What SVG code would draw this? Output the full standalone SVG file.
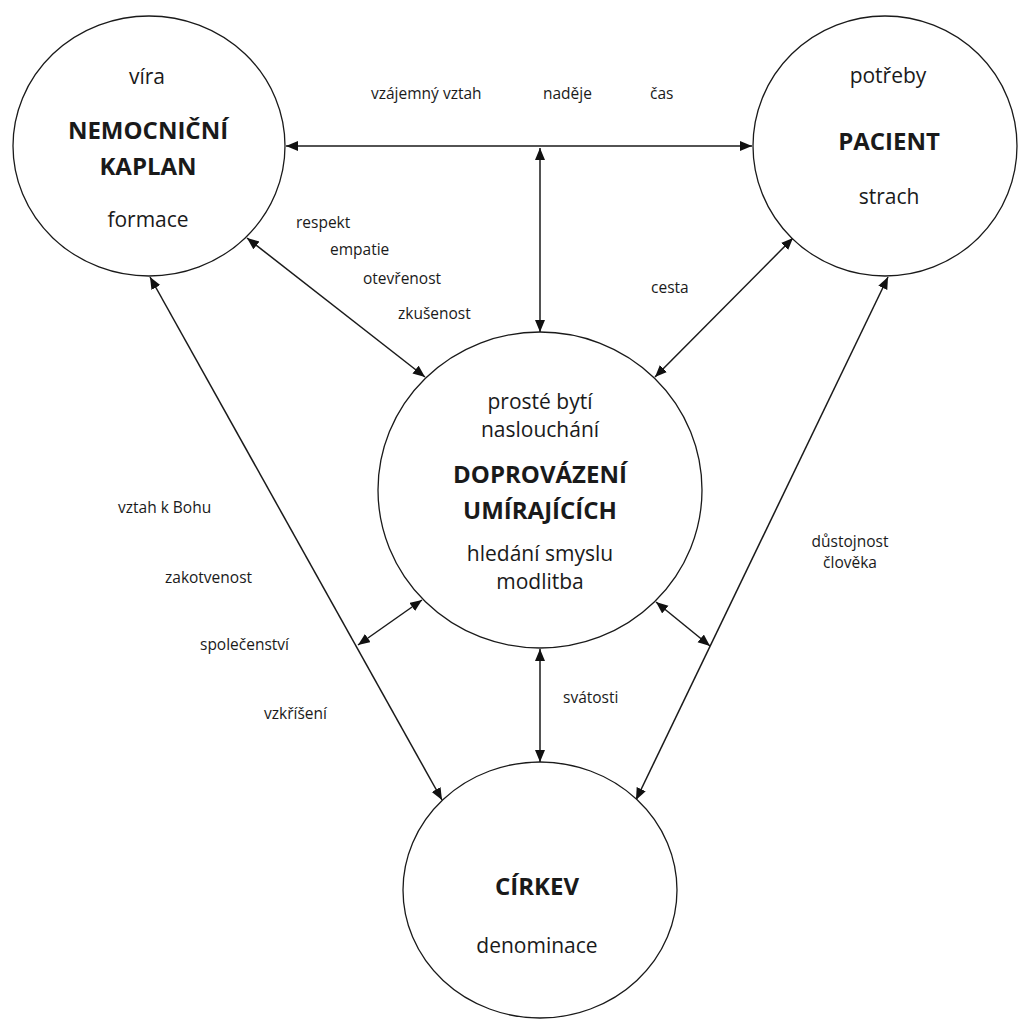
<svg xmlns="http://www.w3.org/2000/svg" width="1018" height="1020" viewBox="0 0 1018 1020">
<style>
.node{fill:#fff;stroke:#1a1a1a;stroke-width:1.3}
.t{font-family:"Open Sans","Noto Sans",sans-serif;fill:#1a1a1a;text-anchor:middle}
.r{font-size:21px}
.b{font-size:24px;font-weight:bold}
.s{font-family:"Open Sans","Noto Sans",sans-serif;fill:#1a1a1a;font-size:15.5px}
.c{fill:none;stroke:#1a1a1a;stroke-width:1.5}
</style>
<defs>
<marker id="ah" markerUnits="userSpaceOnUse" markerWidth="13" markerHeight="11" refX="12" refY="5" orient="auto-start-reverse">
<path d="M0,0 L12,5 L0,10 z" fill="#111"/>
</marker>
</defs>
<rect width="1018" height="1020" fill="#fff"/>
<g id="connectors">
<line class="c" x1="286" y1="146" x2="752" y2="146" marker-start="url(#ah)" marker-end="url(#ah)"/>
<line class="c" x1="540" y1="148" x2="540" y2="332" marker-start="url(#ah)" marker-end="url(#ah)"/>
<line class="c" x1="247" y1="238" x2="425" y2="377" marker-start="url(#ah)" marker-end="url(#ah)"/>
<line class="c" x1="793" y1="238" x2="655" y2="377" marker-start="url(#ah)" marker-end="url(#ah)"/>
<line class="c" x1="150" y1="277" x2="442" y2="800" marker-start="url(#ah)" marker-end="url(#ah)"/>
<line class="c" x1="888" y1="277" x2="636" y2="800" marker-start="url(#ah)" marker-end="url(#ah)"/>
<line class="c" x1="422" y1="600" x2="358" y2="645" marker-start="url(#ah)" marker-end="url(#ah)"/>
<line class="c" x1="656" y1="602" x2="710" y2="646" marker-start="url(#ah)" marker-end="url(#ah)"/>
<line class="c" x1="540" y1="649" x2="540" y2="762" marker-start="url(#ah)" marker-end="url(#ah)"/>
</g>
<g id="kaplan">
<ellipse class="node" cx="149" cy="146" rx="136" ry="130"/>
<text class="t r" x="147" y="84">víra</text>
<text class="t b" x="148" y="139">NEMOCNIČNÍ</text>
<text class="t b" x="148" y="175">KAPLAN</text>
<text class="t r" x="148" y="227">formace</text>
</g>
<g id="pacient">
<ellipse class="node" cx="885" cy="146" rx="132" ry="130"/>
<text class="t r" x="888" y="83">potřeby</text>
<text class="t b" x="889" y="150">PACIENT</text>
<text class="t r" x="889" y="204">strach</text>
</g>
<g id="doprovazeni">
<ellipse class="node" cx="540" cy="490" rx="162" ry="158"/>
<text class="t r" x="540" y="409">prosté bytí</text>
<text class="t r" x="540" y="437">naslouchání</text>
<text class="t b" x="540" y="483">DOPROVÁZENÍ</text>
<text class="t b" x="540" y="519">UMÍRAJÍCÍCH</text>
<text class="t r" x="540" y="561">hledání smyslu</text>
<text class="t r" x="540" y="589">modlitba</text>
</g>
<g id="cirkev">
<ellipse class="node" cx="540" cy="890" rx="137" ry="128"/>
<text class="t b" x="537" y="895">CÍRKEV</text>
<text class="t r" x="537" y="953">denominace</text>
</g>
<g id="labels">
<text class="s" x="371" y="99">vzájemný vztah</text>
<text class="s" x="543" y="99">naděje</text>
<text class="s" x="650" y="99">čas</text>
<text class="s" x="296" y="228">respekt</text>
<text class="s" x="330" y="255">empatie</text>
<text class="s" x="363" y="284">otevřenost</text>
<text class="s" x="398" y="319">zkušenost</text>
<text class="s" x="651" y="293">cesta</text>
<text class="s" x="118" y="513">vztah k Bohu</text>
<text class="s" x="165" y="583">zakotvenost</text>
<text class="s" x="200" y="650">společenství</text>
<text class="s" x="264" y="719">vzkříšení</text>
<text class="s" x="563" y="703">svátosti</text>
<text class="s" x="850" y="547" text-anchor="middle">důstojnost</text>
<text class="s" x="850" y="568" text-anchor="middle">člověka</text>
</g>
</svg>
